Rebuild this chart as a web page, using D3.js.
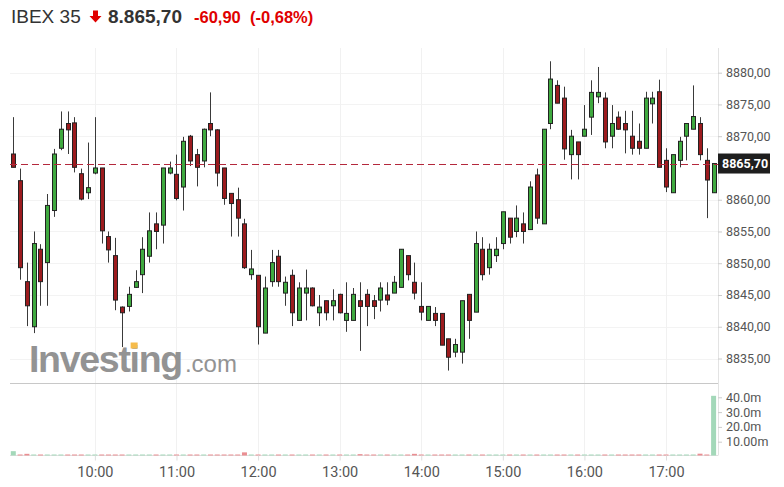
<!DOCTYPE html>
<html>
<head>
<meta charset="utf-8">
<script src="https://cdn.jsdelivr.net/npm/d3@7"></script>
<style>
  body { margin: 0; background: #fff; }
  svg { display: block; }
</style>
</head>
<body>
<script>
// header
var instrument = "IBEX 35";
var lastPriceText = "8.865,70";
var changeText = "-60,90";
var changePctText = "(-0,68%)";
var lastPrice = 8865.70;

// 5-minute candles, 09:00 -> 17:35
var opens = [8867.2,8863.0,8847.1,8840.0,8852.2,8850.1,8858.3,8868.1,8872.0,8872.1,
  8864.1,8861.1,8864.2,8865.0,8854.2,8851.2,8843.1,8843.2,8846.2,8848.2,
  8851.1,8856.2,8856.0,8864.2,8864.0,8862.0,8870.0,8867.1,8866.1,8872.0,
  8871.0,8865.0,8861.0,8860.0,8856.2,8848.2,8848.1,8839.0,8847.1,8851.1,
  8845.3,8848.1,8841.0,8845.3,8846.1,8842.2,8844.1,8843.3,8845.1,8841.0,
  8841.0,8844.1,8845.1,8844.1,8844.2,8845.0,8845.3,8846.2,8851.2,8847.0,
  8843.2,8841.0,8842.1,8842.1,8838.1,8836.0,8836.0,8845.1,8842.3,8852.2,
  8849.3,8851.2,8853.1,8857.1,8855.0,8856.2,8855.3,8863.9,8856.2,8872.0,
  8878.0,8876.0,8867.1,8869.1,8870.0,8873.0,8876.2,8876.0,8870.0,8873.0,
  8872.0,8870.0,8869.2,8868.1,8875.1,8877.0,8866.2,8861.1,8866.2,8870.0,
  8871.1,8872.0,8866.2,8861.1];
var highs = [8873.0,8864.9,8850.1,8855.0,8853.0,8860.9,8868.0,8873.9,8873.9,8873.0,
  8864.9,8869.0,8873.0,8865.0,8855.0,8854.0,8843.2,8846.3,8848.9,8854.1,
  8858.0,8858.0,8865.0,8866.0,8867.1,8869.9,8870.2,8868.0,8871.2,8876.9,
  8871.1,8865.0,8861.0,8861.9,8857.0,8852.1,8848.1,8847.9,8852.1,8852.1,
  8847.9,8849.0,8847.0,8849.0,8846.2,8845.0,8844.1,8845.9,8845.2,8847.0,
  8846.1,8847.0,8845.9,8845.0,8847.0,8847.0,8848.0,8852.2,8851.2,8850.1,
  8847.0,8843.2,8843.1,8842.1,8838.1,8838.1,8844.1,8845.1,8855.0,8854.1,
  8853.1,8854.1,8858.1,8857.1,8859.1,8858.0,8862.9,8864.9,8871.1,8881.8,
  8878.8,8877.8,8871.0,8869.1,8874.9,8878.8,8880.9,8876.9,8874.9,8873.9,
  8874.0,8874.0,8872.0,8877.0,8877.0,8878.9,8868.1,8867.1,8869.9,8872.0,
  8878.0,8873.0,8868.1,8865.7];
var lows = [8865.1,8847.4,8840.1,8839.0,8843.3,8843.3,8857.3,8867.8,8867.2,8864.3,
  8859.9,8860.1,8864.0,8853.1,8850.1,8842.6,8836.8,8842.4,8846.1,8845.3,
  8850.1,8852.2,8853.1,8864.0,8859.9,8858.3,8865.3,8862.1,8865.1,8870.0,
  8862.1,8859.2,8854.2,8854.2,8849.1,8847.4,8837.2,8839.0,8846.3,8846.3,
  8843.3,8840.1,8841.0,8841.0,8843.2,8840.1,8841.0,8841.0,8842.1,8839.2,
  8841.0,8836.2,8840.1,8841.2,8842.4,8843.4,8845.3,8846.2,8847.3,8844.3,
  8841.0,8841.0,8840.1,8837.1,8833.1,8835.2,8834.2,8838.1,8842.3,8847.3,
  8848.2,8850.2,8852.2,8853.1,8854.1,8853.1,8855.3,8856.2,8856.2,8871.1,
  8875.2,8866.3,8863.2,8863.2,8870.0,8870.2,8875.2,8868.1,8868.1,8871.0,
  8867.3,8867.1,8867.1,8868.1,8872.0,8865.1,8861.2,8861.1,8865.1,8866.2,
  8871.1,8866.2,8857.1,8861.1];
var closes = [8865.1,8849.3,8843.3,8853.1,8847.1,8859.1,8867.2,8871.1,8871.0,8865.1,
  8860.1,8861.9,8865.0,8855.1,8852.1,8844.2,8842.2,8845.1,8847.1,8852.2,
  8855.1,8855.0,8865.0,8865.0,8860.2,8869.2,8866.1,8865.1,8871.1,8871.0,
  8864.2,8860.2,8859.4,8857.1,8849.3,8849.1,8840.0,8846.1,8850.1,8847.1,
  8847.0,8842.2,8846.1,8846.1,8843.3,8843.1,8842.2,8844.1,8842.2,8842.1,
  8845.1,8843.2,8843.2,8843.2,8846.1,8844.2,8847.0,8852.2,8848.2,8845.3,
  8842.3,8843.2,8841.0,8837.1,8835.2,8837.2,8844.1,8841.0,8853.1,8848.2,
  8852.2,8852.2,8858.1,8854.1,8857.1,8855.0,8862.0,8857.1,8871.1,8879.0,
  8875.2,8868.0,8870.0,8867.1,8871.1,8876.9,8876.9,8869.1,8872.0,8871.1,
  8871.0,8868.1,8868.1,8876.0,8876.0,8865.1,8862.0,8867.1,8869.2,8872.0,
  8873.1,8867.1,8863.1,8865.7];
// volume in millions
var volumes = [3.6,1.0,1.8,0.8,0.5,0.4,0.5,0.3,0.4,0.5,
  0.4,0.3,0.5,0.6,1.2,0.5,1.3,0.4,0.3,0.4,
  0.3,0.4,0.5,0.3,0.4,0.4,0.3,0.4,0.3,0.4,
  0.5,0.4,0.4,0.5,2.8,0.4,0.6,0.5,0.4,0.3,
  0.4,0.5,0.4,0.3,0.4,0.3,0.4,0.3,0.4,0.8,
  0.5,1.6,0.4,0.3,0.4,0.3,0.4,0.5,0.4,1.8,
  0.4,0.3,0.4,0.5,0.6,0.3,0.6,0.4,0.5,0.4,
  0.3,0.4,0.3,0.4,0.3,0.4,0.5,0.6,0.9,0.7,
  0.5,0.6,0.4,0.5,0.4,0.5,0.4,0.5,0.4,0.4,
  0.5,0.4,0.5,0.4,0.3,0.5,0.4,0.5,0.7,0.8,
  0.9,1.9,0.6,41.0];
// opening auction bar is shown green
var volumeUpAlso = [0];

var priceTicks = [8835, 8840, 8845, 8850, 8855, 8860, 8870, 8875, 8880];
var volTicks = [10, 20, 30, 40];
var volTickLabels = ["10.00m", "20.0m", "30.0m", "40.0m"];
var hourLabels = ["10:00", "11:00", "12:00", "13:00", "14:00", "15:00", "16:00", "17:00"];

var width = 784, height = 487;
var left = 10, axisX = 718;
var priceTop = 48, priceBottom = 383, volBottom = 455.5;

var svg = d3.select("body").append("svg")
  .attr("width", width)
  .attr("height", height)
  .style("font-family", "Roboto, 'Liberation Sans', Arial, sans-serif");

var parseT = d3.timeParse("%H:%M");
var start = parseT("09:00");
var times = closes.map(function(d, i) { return d3.timeMinute.offset(start, i * 5); });

var x = d3.scaleTime()
  .domain([times[0], times[times.length - 1]])
  .range([13.3, 713.6]);
var y = d3.scaleLinear().domain([8835, 8880]).range([358.5, 72.7]);
var yv = d3.scaleLinear().domain([0, 40]).range([456.5, 397.3]);

var hourTimes = hourLabels.map(parseT);
var isUp = function(i) { return closes[i] >= opens[i]; };

// grid
var grid = svg.append("g");
grid.selectAll("line.h").data(priceTicks).enter().append("line")
  .attr("x1", left).attr("x2", axisX)
  .attr("y1", function(d) { return Math.round(y(d)) + 0.5; })
  .attr("y2", function(d) { return Math.round(y(d)) + 0.5; })
  .attr("stroke", "#f3f3f3");
grid.selectAll("line.v").data(hourTimes).enter().append("line")
  .attr("x1", function(d) { return Math.round(x(d)) + 0.5; })
  .attr("x2", function(d) { return Math.round(x(d)) + 0.5; })
  .attr("y1", priceTop).attr("y2", volBottom)
  .attr("stroke", "#f1f1f1");

// watermark
var wm = svg.append("g").attr("opacity", 0.92);
var wmText = wm.append("text")
  .attr("x", 29).attr("y", 372)
  .attr("fill", "#8a8a8a")
  .style("font-family", "'Liberation Sans', Arial, sans-serif")
  .style("font-weight", "bold")
  .style("font-size", "37.5px")
  .style("letter-spacing", "-1.3px")
  .text("Investing");
var wmEnd = wmText.node().getComputedTextLength();
wm.append("text")
  .attr("x", 29 + wmEnd + 3).attr("y", 372)
  .attr("fill", "#8a8a8a")
  .style("font-family", "'Liberation Sans', Arial, sans-serif")
  .style("font-size", "24px")
  .text(".com");
var iStart = wmText.node().getStartPositionOfChar(6);
var iEnd = wmText.node().getEndPositionOfChar(6);
wm.append("rect")
  .attr("x", (iStart.x + iEnd.x) / 2 - 3.5).attr("y", 342.5)
  .attr("width", 7).attr("height", 6)
  .attr("fill", "#f6b73c");

// separators / axis lines
svg.append("line").attr("x1", left).attr("x2", axisX)
  .attr("y1", priceBottom + 0.5).attr("y2", priceBottom + 0.5)
  .attr("stroke", "#c8c8c8");
svg.append("line").attr("x1", left).attr("x2", axisX)
  .attr("y1", volBottom).attr("y2", volBottom)
  .attr("stroke", "#e0e0e0");
svg.append("line").attr("x1", axisX + 0.5).attr("x2", axisX + 0.5)
  .attr("y1", priceTop).attr("y2", volBottom)
  .attr("stroke", "#e3e3e3");

// volume bars
svg.append("g").selectAll("rect").data(volumes).enter().append("rect")
  .attr("x", function(d, i) { return x(times[i]) - 2.5; })
  .attr("width", 5)
  .attr("y", function(d) { return Math.min(yv(d), volBottom - 1); })
  .attr("height", function(d) { return Math.max(1, volBottom - yv(d)); })
  .attr("fill", function(d, i) {
    return (isUp(i) || volumeUpAlso.indexOf(i) >= 0) ? "#a3d8b9" : "#ea8e92";
  });

// candles
var candles = svg.append("g").selectAll("g").data(closes).enter().append("g");
candles.append("line")
  .attr("x1", function(d, i) { return Math.round(x(times[i])) + 0.5; })
  .attr("x2", function(d, i) { return Math.round(x(times[i])) + 0.5; })
  .attr("y1", function(d, i) { return y(highs[i]); })
  .attr("y2", function(d, i) { return y(lows[i]); })
  .attr("stroke", "#3a3a3a");
candles.append("rect")
  .attr("x", function(d, i) { return Math.round(x(times[i])) - 1.5; })
  .attr("width", 4)
  .attr("y", function(d, i) { return y(Math.max(opens[i], closes[i])); })
  .attr("height", function(d, i) { return Math.max(1, Math.abs(y(opens[i]) - y(closes[i]))); })
  .attr("fill", function(d, i) { return isUp(i) ? "#3fa93f" : "#9c1b1e"; })
  .attr("stroke", "#222")
  .attr("stroke-width", 1);

// current price line
svg.append("line")
  .attr("x1", left).attr("x2", axisX)
  .attr("y1", Math.round(y(lastPrice)) + 0.5).attr("y2", Math.round(y(lastPrice)) + 0.5)
  .attr("stroke", "#b4283c")
  .attr("stroke-dasharray", "7,4");

// price axis
var yAxis = d3.axisRight(y)
  .tickValues(priceTicks)
  .tickSize(4)
  .tickPadding(4)
  .tickFormat(function(d) { return d3.format(".2f")(d).replace(".", ","); });
var ya = svg.append("g").attr("transform", "translate(" + axisX + ",0)").call(yAxis);
ya.select(".domain").remove();
ya.selectAll("line").attr("stroke", "#ccc");
ya.selectAll("text").attr("fill", "#555").style("font-size", "12.5px")
  .style("font-family", "Roboto, 'Liberation Sans', Arial, sans-serif");

// last price tag
svg.append("rect")
  .attr("x", axisX).attr("y", y(lastPrice) - 10)
  .attr("width", 52).attr("height", 20)
  .attr("fill", "#1e1e1e");
svg.append("text")
  .attr("x", axisX + 4).attr("y", y(lastPrice) + 4.5)
  .attr("fill", "#fff")
  .style("font-size", "12.5px")
  .style("font-weight", "bold")
  .text(d3.format(".2f")(lastPrice).replace(".", ","));

// volume axis
var vAxis = d3.axisRight(yv)
  .tickValues(volTicks)
  .tickSize(4)
  .tickPadding(4)
  .tickFormat(function(d, i) { return volTickLabels[i]; });
var va = svg.append("g").attr("transform", "translate(" + axisX + ",0)").call(vAxis);
va.select(".domain").remove();
va.selectAll("line").attr("stroke", "#ccc");
va.selectAll("text").attr("fill", "#555").style("font-size", "12.5px")
  .style("font-family", "Roboto, 'Liberation Sans', Arial, sans-serif");

// time axis
var xAxis = d3.axisBottom(x)
  .tickValues(hourTimes)
  .tickSize(5)
  .tickPadding(6)
  .tickFormat(function(d, i) { return hourLabels[i]; });
var xa = svg.append("g").attr("transform", "translate(0," + volBottom + ")").call(xAxis);
xa.select(".domain").remove();
xa.selectAll("line").attr("stroke", "#ddd");
xa.selectAll("text").attr("fill", "#555").style("font-size", "14.5px")
  .style("font-family", "Roboto, 'Liberation Sans', Arial, sans-serif");

// header
var head = svg.append("g").style("font-family", "'Liberation Sans', Arial, sans-serif");
head.append("text").attr("x", 11).attr("y", 23)
  .attr("fill", "#333").style("font-size", "19px")
  .text(instrument);
head.append("path")
  .attr("d", "M93,10.5 h5 v5.5 h3.5 l-6,6.5 l-6,-6.5 h3.5 z")
  .attr("fill", "#e00000");
head.append("text").attr("x", 108).attr("y", 23)
  .attr("fill", "#333").style("font-size", "19px").style("font-weight", "bold")
  .text(lastPriceText);
head.append("text").attr("x", 194).attr("y", 23)
  .attr("fill", "#e00000").style("font-size", "16.5px").style("font-weight", "bold")
  .text(changeText);
head.append("text").attr("x", 250).attr("y", 23)
  .attr("fill", "#e00000").style("font-size", "16.5px").style("font-weight", "bold")
  .text(changePctText);
</script>
</body>
</html>
